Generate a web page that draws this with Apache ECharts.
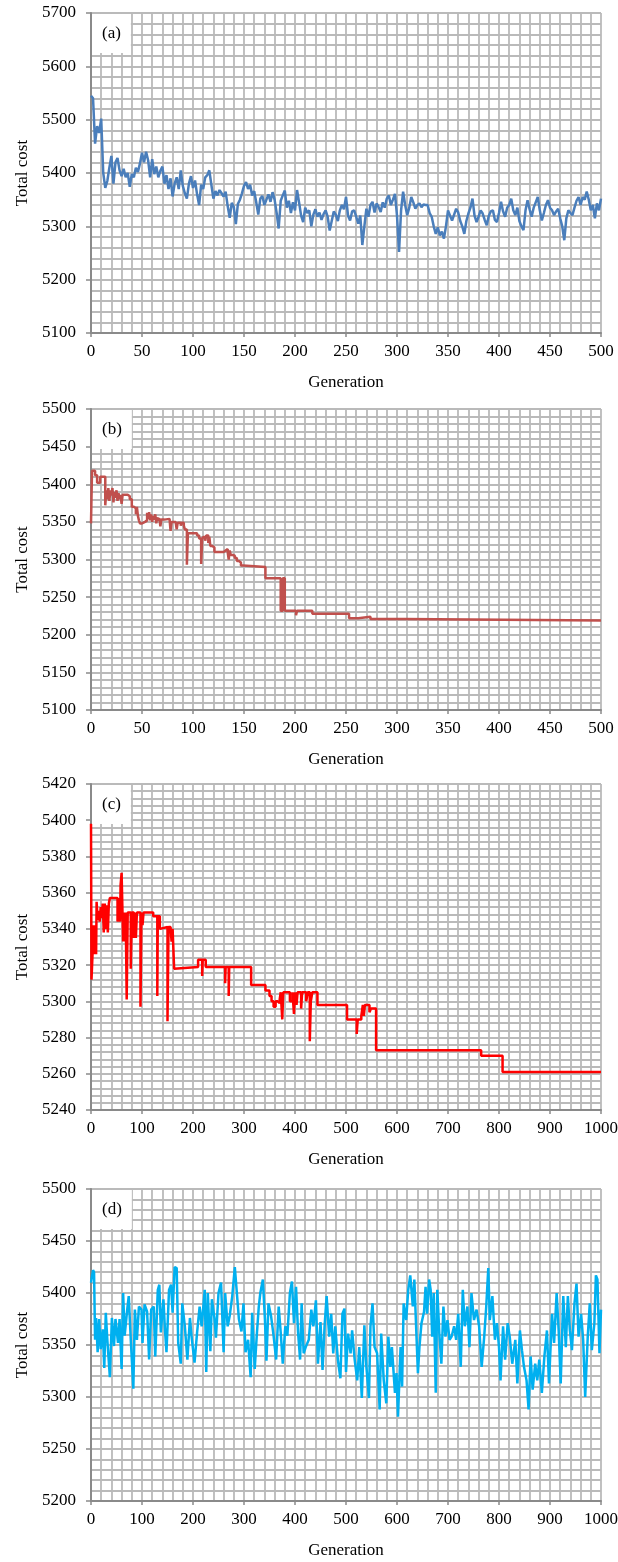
<!DOCTYPE html>
<html>
<head>
<meta charset="utf-8">
<script src="https://cdn.jsdelivr.net/npm/echarts@6/dist/echarts.min.js"></script>
<style>
  html, body { margin: 0; padding: 0; background: #fff; }
  #chart { width: 618px; height: 1562px; }
</style>
</head>
<body>
<div id="chart"></div>
<script>
// (a) total cost, one reading every 2 generations (0..500)
const GEN_STEP_A = 2
const costA = [
  5545, 5540, 5455, 5488, 5475, 5502, 5400, 5372, 5385, 5410,
  5432, 5380, 5420, 5428, 5405, 5394, 5408, 5392, 5400, 5374,
  5398, 5392, 5410, 5402, 5418, 5438, 5420, 5440, 5424, 5392,
  5426, 5398, 5412, 5392, 5404, 5412, 5380, 5396, 5370, 5390,
  5356, 5380, 5392, 5370, 5405, 5376, 5362, 5352, 5380, 5394,
  5372, 5386, 5360, 5340, 5378, 5370, 5392, 5396, 5405, 5378,
  5352, 5366, 5358, 5368, 5362, 5356, 5365, 5338, 5316, 5344,
  5336, 5304, 5342, 5350, 5362, 5376, 5383, 5370, 5378, 5358,
  5366, 5345, 5322, 5352, 5357, 5340, 5350, 5360, 5346, 5364,
  5350, 5325, 5296, 5348, 5358, 5367, 5335, 5348, 5325, 5345,
  5330, 5368, 5345, 5320, 5308, 5335, 5325, 5330, 5300, 5322,
  5332, 5318, 5326, 5312, 5323, 5330, 5318, 5292, 5310, 5328,
  5322, 5310, 5330, 5340, 5332, 5355, 5320, 5311, 5328, 5330,
  5318, 5305, 5320, 5265, 5300, 5333, 5318, 5340, 5346, 5326,
  5343, 5336, 5327, 5345, 5335, 5352, 5358, 5340, 5350, 5361,
  5320, 5252, 5330, 5365, 5340, 5321, 5335, 5355, 5345, 5333,
  5340, 5343, 5336, 5341, 5340, 5340, 5325, 5318, 5300, 5286,
  5298, 5283, 5290, 5277, 5300, 5330, 5320, 5311, 5322, 5333,
  5326, 5310, 5300, 5286, 5310, 5324, 5335, 5352, 5320, 5308,
  5318, 5330, 5324, 5312, 5302, 5320, 5328, 5330, 5312, 5308,
  5325, 5346, 5328, 5318, 5335, 5340, 5352, 5330, 5321, 5335,
  5310, 5300, 5293, 5330, 5349, 5332, 5318, 5335, 5345, 5355,
  5330, 5311, 5325, 5340, 5349, 5335, 5330, 5321, 5328, 5333,
  5315, 5300, 5274, 5315, 5330, 5325, 5321, 5335, 5348, 5355,
  5340, 5355, 5350, 5365, 5350, 5330, 5340, 5315, 5343, 5330,
  5352
]

// (b) step curve: generation where the cost changes, and the new cost
const genB = [
  0, 1, 4, 6, 9, 14, 15, 16, 17, 18, 19, 20, 21, 22, 23, 24, 25, 26, 27, 28,
  29, 30, 31, 36, 38, 40, 42, 44, 45, 46, 47, 48, 50, 53, 55, 56, 57, 58, 59, 60,
  61, 62, 63, 64, 65, 66, 67, 68, 69, 72, 77, 78, 79, 83, 84, 85, 88, 89, 91, 92,
  94, 95, 100, 101, 104, 106, 108, 109, 110, 112, 113, 115, 116, 117, 119, 121, 130, 132, 134, 135,
  136, 137, 139, 141, 143, 145, 147, 149, 150, 171, 186, 188, 190, 201, 202, 217, 235, 236, 253, 262,
  274, 307, 500
]
const costB = [
  5348, 5418, 5412, 5402, 5410, 5372, 5392, 5380, 5395, 5378, 5392, 5385, 5395, 5376, 5390, 5382, 5392, 5378, 5388, 5380,
  5386, 5374, 5386, 5384, 5380, 5370, 5368, 5360, 5370, 5358, 5352, 5348, 5350, 5352, 5362, 5354, 5363, 5352, 5360, 5350,
  5358, 5353, 5360, 5348, 5356, 5352, 5355, 5344, 5353, 5354, 5352, 5338, 5350, 5348, 5340, 5349, 5345, 5349, 5345, 5340,
  5293, 5335, 5333, 5335, 5332, 5328, 5294, 5326, 5330, 5325, 5332, 5322, 5330, 5318, 5316, 5310, 5312, 5314, 5310, 5300,
  5312, 5306, 5305, 5302, 5298, 5296, 5292, 5294, 5290, 5275, 5232, 5275, 5232, 5226, 5232, 5228, 5226, 5228, 5222, 5224,
  5221, 5219, 5219
]

// (c) step curve
const genC = [
  0, 1, 3, 4, 6, 8, 10, 11, 13, 15, 17, 19, 21, 23, 25, 27, 29, 31, 33, 35,
  37, 52, 54, 57, 58, 60, 63, 64, 66, 68, 70, 72, 78, 80, 84, 86, 88, 90, 97, 99,
  101, 103, 122, 130, 131, 135, 137, 150, 152, 156, 158, 160, 163, 165, 210, 218, 219, 225, 263, 264,
  270, 271, 314, 342, 350, 354, 358, 362, 366, 370, 372, 375, 377, 390, 395, 398, 400, 403, 405, 412,
  414, 422, 425, 429, 431, 434, 444, 502, 521, 523, 530, 533, 535, 537, 546, 549, 559, 765, 807, 1000
]
const costC = [
  5398, 5312, 5326, 5342, 5326, 5342, 5326, 5355, 5345, 5350, 5344, 5352, 5346, 5354, 5338, 5354, 5340, 5353, 5338, 5354,
  5357, 5344, 5357, 5344, 5364, 5371, 5333, 5349, 5333, 5349, 5301, 5349, 5318, 5349, 5335, 5349, 5335, 5349, 5297, 5349,
  5342, 5349, 5347, 5303, 5347, 5340, 5341, 5289, 5341, 5342, 5333, 5340, 5318, 5319, 5323, 5314, 5323, 5319, 5310, 5319,
  5303, 5319, 5309, 5306, 5303, 5300, 5297, 5300, 5299, 5301, 5305, 5290, 5305, 5300, 5305, 5293, 5305, 5298, 5305, 5296,
  5305, 5300, 5305, 5278, 5300, 5305, 5298, 5290, 5282, 5290, 5292, 5298, 5292, 5298, 5294, 5296, 5273, 5270, 5261, 5261
]

// (d) noisy curve, readings at these generations
const genD = [
  0, 2, 4, 6, 8, 10, 13, 16, 19, 23, 26, 29, 32, 37, 41, 45, 48, 53, 56, 60,
  63, 66, 71, 74, 78, 83, 86, 90, 94, 99, 101, 105, 110, 114, 118, 123, 126, 131, 134, 137,
  142, 145, 148, 153, 157, 160, 164, 168, 171, 176, 179, 184, 189, 194, 197, 203, 208, 213, 217, 223,
  226, 229, 234, 237, 242, 245, 250, 255, 260, 263, 268, 272, 277, 282, 286, 290, 295, 299, 303, 308,
  313, 316, 321, 325, 329, 332, 337, 341, 344, 348, 353, 358, 363, 368, 372, 376, 381, 385, 390, 394,
  398, 402, 406, 410, 413, 417, 421, 427, 432, 436, 441, 445, 450, 454, 458, 462, 467, 471, 475, 479,
  484, 489, 493, 497, 500, 504, 509, 512, 517, 522, 526, 531, 536, 540, 545, 548, 552, 556, 561, 566,
  569, 574, 579, 583, 587, 590, 596, 599, 602, 607, 610, 613, 618, 622, 626, 631, 634, 638, 641, 644,
  648, 653, 656, 659, 663, 666, 669, 672, 676, 679, 683, 687, 691, 695, 699, 703, 707, 712, 716, 720,
  725, 729, 733, 738, 742, 746, 751, 756, 761, 766, 771, 775, 779, 782, 787, 792, 796, 800, 803, 808,
  812, 817, 821, 826, 832, 836, 841, 845, 849, 854, 858, 862, 866, 871, 875, 879, 884, 889, 894, 898,
  904, 908, 913, 917, 921, 926, 931, 935, 939, 943, 948, 952, 956, 961, 965, 969, 974, 978, 982, 987,
  990, 993, 997, 1000
]
const costD = [
  5410, 5416, 5422, 5420, 5355, 5376, 5343, 5375, 5346, 5365, 5328, 5381, 5355, 5319, 5376, 5349, 5375, 5352, 5375, 5327,
  5400, 5359, 5384, 5397, 5355, 5308, 5384, 5355, 5387, 5384, 5352, 5389, 5382, 5336, 5384, 5387, 5339, 5403, 5408, 5362,
  5394, 5365, 5343, 5403, 5408, 5381, 5425, 5424, 5352, 5332, 5390, 5368, 5336, 5376, 5359, 5333, 5362, 5387, 5368, 5403,
  5324, 5400, 5344, 5394, 5376, 5357, 5400, 5410, 5343, 5400, 5368, 5378, 5397, 5425, 5400, 5375, 5363, 5390, 5343, 5355,
  5319, 5381, 5327, 5359, 5387, 5400, 5413, 5375, 5335, 5390, 5378, 5359, 5336, 5387, 5362, 5332, 5368, 5359, 5400, 5411,
  5371, 5406, 5362, 5336, 5390, 5342, 5348, 5355, 5384, 5368, 5393, 5332, 5372, 5326, 5368, 5397, 5358, 5380, 5342, 5368,
  5336, 5318, 5380, 5385, 5324, 5361, 5342, 5364, 5336, 5316, 5348, 5299, 5369, 5329, 5299, 5368, 5390, 5348, 5342, 5288,
  5361, 5316, 5294, 5358, 5329, 5348, 5304, 5323, 5281, 5348, 5310, 5390, 5374, 5403, 5417, 5387, 5413, 5361, 5323, 5348,
  5371, 5382, 5406, 5380, 5413, 5403, 5358, 5400, 5304, 5403, 5361, 5332, 5387, 5358, 5374, 5355, 5358, 5368, 5355, 5380,
  5329, 5403, 5368, 5387, 5348, 5400, 5374, 5384, 5368, 5329, 5358, 5387, 5424, 5374, 5397, 5355, 5371, 5348, 5316, 5368,
  5336, 5371, 5358, 5332, 5355, 5313, 5364, 5345, 5329, 5316, 5288, 5339, 5307, 5332, 5316, 5336, 5304, 5339, 5364, 5313,
  5380, 5352, 5400, 5364, 5313, 5397, 5348, 5397, 5364, 5345, 5390, 5409, 5358, 5380, 5355, 5300, 5358, 5390, 5345, 5371,
  5417, 5413, 5342, 5384
]

const pairs = (xs, ys) => ys.map((y, i) => [xs[i], y])
const dataA = costA.map((y, i) => [i * GEN_STEP_A, y])

const font = '"Liberation Serif", "Times New Roman", serif'
const gridColor = '#bababa'
const axisColor = '#8a8a8a'

const panels = [
  { tag: '(a)', top: 13, height: 320, xMax: 500, xInt: 50, yMin: 5100, yMax: 5700, yInt: 100, color: '#4a7ebb', data: dataA },
  { tag: '(b)', top: 409, height: 301, xMax: 500, xInt: 50, yMin: 5100, yMax: 5500, yInt: 50, color: '#c0504d', data: pairs(genB, costB), step: 'end' },
  { tag: '(c)', top: 784, height: 326, xMax: 1000, xInt: 100, yMin: 5240, yMax: 5420, yInt: 20, color: '#ff0000', data: pairs(genC, costC), step: 'end' },
  { tag: '(d)', top: 1189, height: 312, xMax: 1000, xInt: 100, yMin: 5200, yMax: 5500, yInt: 50, color: '#00b0f0', data: pairs(genD, costD) },
]

const textStyle = { fontFamily: font, fontSize: 17, color: '#000' }
const gridLine = { show: true, lineStyle: { color: gridColor, width: 1.8 } }
// plain numbers, no thousands separator
const plain = v => String(v)

const chart = echarts.init(document.getElementById('chart'), null, { renderer: 'canvas' })

chart.setOption({
  animation: false,
  backgroundColor: '#fff',
  title: panels.map(p => ({
    text: p.tag,
    left: 92,
    top: p.top + 1,
    backgroundColor: '#fff',
    padding: [11, 10, 11, 10],
    textStyle: { fontFamily: font, fontSize: 17, fontWeight: 'normal', color: '#000' },
  })),
  grid: panels.map(p => ({
    left: 91,
    right: 17,
    top: p.top,
    height: p.height,
    containLabel: false,
    outerBoundsMode: 'none',
  })),
  xAxis: panels.map((p, i) => ({
    type: 'value',
    gridIndex: i,
    min: 0,
    max: p.xMax,
    interval: p.xInt,
    name: 'Generation',
    nameLocation: 'middle',
    nameGap: 41,
    nameTextStyle: textStyle,
    axisLine: { show: true, onZero: false, lineStyle: { color: axisColor, width: 2 } },
    axisTick: { show: true, length: 4, lineStyle: { color: axisColor, width: 1.5 } },
    axisLabel: Object.assign({ margin: 10, formatter: plain, hideOverlap: false }, textStyle),
    splitLine: gridLine,
    minorTick: { show: false, splitNumber: 5 },
    minorSplitLine: gridLine,
  })),
  yAxis: panels.map((p, i) => ({
    type: 'value',
    gridIndex: i,
    min: p.yMin,
    max: p.yMax,
    interval: p.yInt,
    name: 'Total cost',
    nameLocation: 'middle',
    nameGap: 58,
    nameTextStyle: textStyle,
    axisLine: { show: true, onZero: false, lineStyle: { color: axisColor, width: 2 } },
    axisTick: { show: true, length: 5, lineStyle: { color: axisColor, width: 1.5 } },
    axisLabel: Object.assign({ margin: 15, formatter: plain }, textStyle),
    splitLine: gridLine,
    minorTick: { show: false, splitNumber: 5 },
    minorSplitLine: gridLine,
  })),
  series: panels.map((p, i) => ({
    type: 'line',
    xAxisIndex: i,
    yAxisIndex: i,
    data: p.data,
    step: p.step || false,
    showSymbol: false,
    symbol: 'none',
    lineStyle: { color: p.color, width: 2.5 },
    z: 3,
  })),
})
</script>
</body>
</html>
